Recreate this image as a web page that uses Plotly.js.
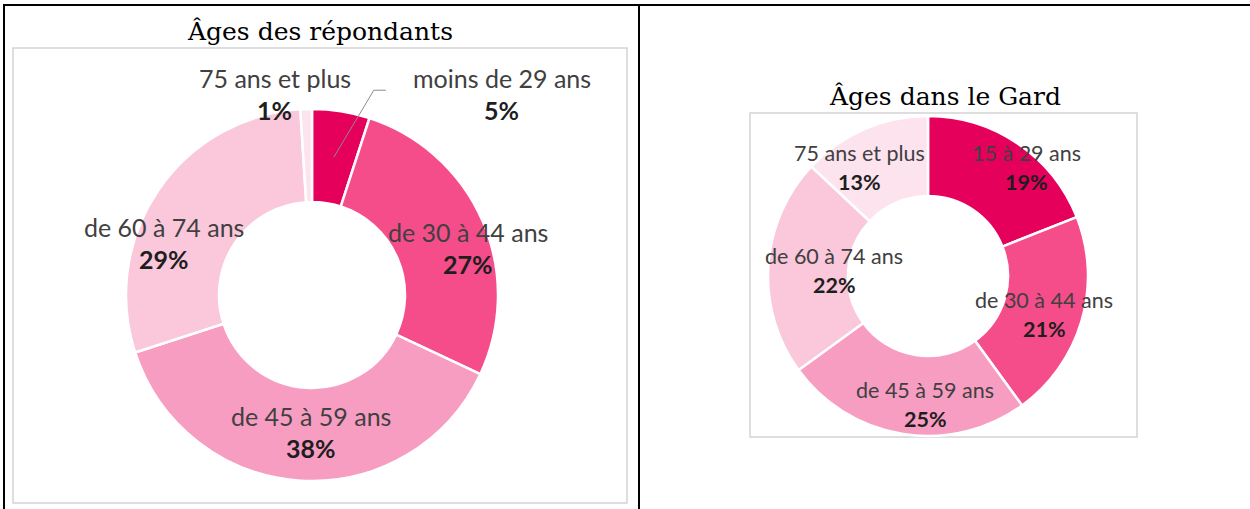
<!DOCTYPE html>
<html><head><meta charset="utf-8">
<script src="https://cdn.plot.ly/plotly-3.0.1.min.js"></script>
<style>html,body{margin:0;padding:0;background:#fff;} #chart{width:1250px;height:509px;}</style>
</head><body><div id="chart"></div>
<script>
// ---------- data ----------
const leftTitle = "Âges des répondants";
const leftCategories = ["moins de 29 ans", "de 30 à 44 ans", "de 45 à 59 ans", "de 60 à 74 ans", "75 ans et plus"];
const leftValues = [5, 27, 38, 29, 1];

const rightTitle = "Âges dans le Gard";
const rightCategories = ["15 à 29 ans", "de 30 à 44 ans", "de 45 à 59 ans", "de 60 à 74 ans", "75 ans et plus"];
const rightValues = [19, 21, 25, 22, 13];

// ---------- style ----------
const W = 1250, H = 509;
const sliceColors = ['#E5005B', '#F54D8A', '#F89DC2', '#FAC7DB', '#FCE3EE'];
const leftGeom  = {cx: 312, cy: 295, r: 186, hole: 0.5, font: 25, gap: 32, titleX: 320, titleY: 31};
const rightGeom = {cx: 928, cy: 276, r: 160, hole: 0.5, font: 21.5, gap: 29, titleX: 945, titleY: 96};
// label offsets (px) from the slice centroid at mid ring
const leftLabelOffsets  = [[168, -63], [28, 8], [8, -2], [-33, 26], [-33, -62]];
const rightLabelOffsets = [[31, -9], [1, 5], [16, 10], [26, 2], [-21, 2]];
const labelFont = 'Lato, "Open Sans", sans-serif';
const titleFont = '"DejaVu Serif", serif';

const px = x => x / W;
const py = y => 1 - y / H;

function pieTrace(cats, vals, g) {
  return {
    type: 'pie', labels: cats, values: vals, sort: false, direction: 'clockwise', rotation: 0,
    hole: g.hole, textinfo: 'none', hoverinfo: 'label+percent', showlegend: false,
    marker: {colors: sliceColors, line: {color: '#ffffff', width: 2.5}},
    domain: {x: [px(g.cx - g.r), px(g.cx + g.r)], y: [py(g.cy + g.r), py(g.cy - g.r)]}
  };
}

function centroids(vals, g) {
  const total = vals.reduce((a, b) => a + b, 0);
  const rm = g.r * (1 + g.hole) / 2;
  let cum = 0;
  return vals.map(v => {
    const mid = (cum + v / 2) / total * 2 * Math.PI;
    cum += v;
    return [g.cx + rm * Math.sin(mid), g.cy - rm * Math.cos(mid), Math.round(v / total * 100)];
  });
}

function labelAnns(cats, vals, g, offs) {
  const anns = [];
  centroids(vals, g).forEach((c, i) => {
    const x = c[0] + offs[i][0], y = c[1] + offs[i][1];
    anns.push({xref: 'paper', yref: 'paper', x: px(x), y: py(y - g.gap / 2), text: cats[i],
      showarrow: false, xanchor: 'center', yanchor: 'middle',
      font: {family: labelFont, size: g.font, color: '#404040'}});
    anns.push({xref: 'paper', yref: 'paper', x: px(x), y: py(y + g.gap / 2), text: '<b>' + c[2] + '%</b>',
      showarrow: false, xanchor: 'center', yanchor: 'middle',
      font: {family: labelFont, size: g.font, color: '#1e1e1e'}});
  });
  return anns;
}

// leader line for the first (small) slice of the left chart
const lc = centroids(leftValues, leftGeom);
const l0 = [lc[0][0] + leftLabelOffsets[0][0], lc[0][1] + leftLabelOffsets[0][1] - leftGeom.gap / 2];
const leader = {
  type: 'path', xref: 'paper', yref: 'paper', layer: 'above',
  path: 'M ' + px(lc[0][0]) + ',' + py(lc[0][1]) + ' L ' + px(l0[0] - 128) + ',' + py(l0[1] + 12) +
        ' L ' + px(l0[0] - 116) + ',' + py(l0[1] + 12),
  line: {color: '#8c8c8c', width: 1}
};

function rect(x0, y0, x1, y1) {
  return {type: 'rect', xref: 'paper', yref: 'paper', layer: 'below',
    x0: px(x0), x1: px(x1), y0: py(y1), y1: py(y0),
    fillcolor: '#ffffff', line: {color: '#d4d4d4', width: 1.5}};
}
function line(x0, y0, x1, y1) {
  return {type: 'line', xref: 'paper', yref: 'paper', layer: 'above',
    x0: px(x0), x1: px(x1), y0: py(y0), y1: py(y1), line: {color: '#000000', width: 2}};
}

const titles = [
  {xref: 'paper', yref: 'paper', x: px(leftGeom.titleX), y: py(leftGeom.titleY), text: leftTitle,
   showarrow: false, xanchor: 'center', yanchor: 'middle', font: {family: titleFont, size: 25, color: '#000'}},
  {xref: 'paper', yref: 'paper', x: px(rightGeom.titleX), y: py(rightGeom.titleY), text: rightTitle,
   showarrow: false, xanchor: 'center', yanchor: 'middle', font: {family: titleFont, size: 25, color: '#000'}}
];

const layout = {
  width: W, height: H, margin: {l: 0, r: 0, t: 0, b: 0},
  paper_bgcolor: '#ffffff', plot_bgcolor: '#ffffff', showlegend: false,
  shapes: [
    rect(13, 48, 627, 503),
    rect(750, 113, 1137, 437),
    leader,
    line(3, 5, 1250, 5),
    line(4, 4, 4, 509),
    line(639, 4, 639, 509)
  ],
  annotations: titles
    .concat(labelAnns(leftCategories, leftValues, leftGeom, leftLabelOffsets))
    .concat(labelAnns(rightCategories, rightValues, rightGeom, rightLabelOffsets))
};

Plotly.newPlot('chart', [pieTrace(leftCategories, leftValues, leftGeom), pieTrace(rightCategories, rightValues, rightGeom)],
  layout, {displayModeBar: false, staticPlot: true});
</script>
</body></html>
